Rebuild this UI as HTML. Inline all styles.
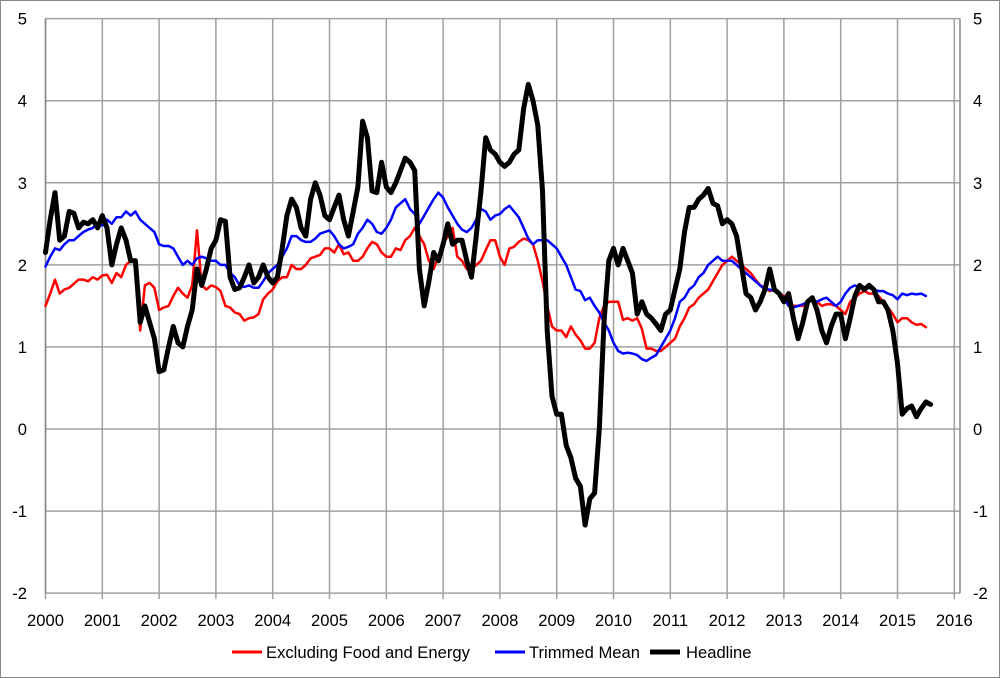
<!DOCTYPE html>
<html><head><meta charset="utf-8"><style>
html,body{margin:0;padding:0;background:#fff}
svg{display:block;font-family:"Liberation Sans",sans-serif}
</style></head><body>
<svg id="chart" width="1000" height="678" viewBox="0 0 1000 678">
<rect x="0.5" y="0.5" width="999" height="677" fill="#fff" stroke="#888"/>
<g id="grid"></g>
<g id="axes"></g>
<g id="series"></g>
<g font-size="16.6" fill="#000">
<g><line x1="232" y1="652" x2="262" y2="652" stroke="#f00" stroke-width="3"/><text x="266" y="658">Excluding Food and Energy</text></g>
<g><line x1="495" y1="652" x2="525" y2="652" stroke="#00f" stroke-width="3"/><text x="529" y="658">Trimmed Mean</text></g>
<g><line x1="650" y1="652" x2="680" y2="652" stroke="#000" stroke-width="5"/><text x="686" y="658">Headline</text></g>
</g>
</svg>
<script>
const yTicks=[-2,-1,0,1,2,3,4,5];
const xYears=[2000,2001,2002,2003,2004,2005,2006,2007,2008,2009,2010,2011,2012,2013,2014,2015,2016];
const headline=[2.15,2.55,2.88,2.3,2.35,2.65,2.63,2.45,2.52,2.5,2.55,2.45,
2.6,2.45,2.0,2.25,2.45,2.3,2.05,2.05,1.3,1.5,1.3,1.1,
0.7,0.72,1.0,1.25,1.05,1.0,1.25,1.45,1.95,1.75,1.95,2.2,
2.3,2.55,2.53,1.85,1.7,1.72,1.85,2.0,1.78,1.85,2.0,1.85,
1.78,1.85,2.2,2.6,2.8,2.7,2.45,2.35,2.8,3.0,2.85,2.6,
2.55,2.7,2.85,2.55,2.35,2.65,2.95,3.75,3.55,2.9,2.88,3.25,
2.95,2.88,3.0,3.15,3.3,3.25,3.15,1.95,1.5,1.8,2.15,2.05,
2.25,2.5,2.25,2.3,2.3,2.05,1.85,2.35,2.9,3.55,3.4,3.35,
3.25,3.2,3.25,3.35,3.4,3.9,4.2,4.0,3.7,2.9,1.2,0.4,
0.18,0.18,-0.2,-0.35,-0.6,-0.7,-1.17,-0.85,-0.78,0.0,1.3,2.05,
2.2,2.0,2.2,2.05,1.9,1.4,1.55,1.4,1.35,1.28,1.2,1.4,
1.45,1.7,1.95,2.4,2.7,2.7,2.8,2.85,2.93,2.75,2.72,2.5,
2.55,2.5,2.35,2.0,1.65,1.6,1.45,1.55,1.7,1.95,1.7,1.65,
1.55,1.65,1.35,1.1,1.3,1.55,1.6,1.45,1.2,1.05,1.25,1.4,
1.4,1.1,1.35,1.62,1.75,1.7,1.75,1.7,1.55,1.55,1.45,1.2,
0.8,0.18,0.25,0.28,0.15,0.25,0.33,0.3];
const core=[1.5,1.65,1.82,1.65,1.7,1.72,1.77,1.82,1.82,1.8,1.85,1.82,
1.87,1.88,1.78,1.9,1.85,2.0,2.05,2.05,1.2,1.75,1.78,1.72,
1.45,1.48,1.5,1.62,1.72,1.65,1.6,1.75,2.42,1.75,1.7,1.75,
1.73,1.68,1.5,1.48,1.42,1.4,1.32,1.35,1.36,1.4,1.58,1.65,
1.7,1.8,1.85,1.85,2.0,1.95,1.95,2.0,2.08,2.1,2.12,2.2,
2.2,2.15,2.25,2.13,2.15,2.05,2.05,2.1,2.2,2.28,2.25,2.15,
2.1,2.1,2.2,2.18,2.3,2.35,2.45,2.35,2.25,2.05,1.95,2.1,
2.25,2.35,2.45,2.1,2.05,1.95,1.95,2.0,2.05,2.18,2.3,2.3,
2.1,2.0,2.2,2.22,2.28,2.32,2.3,2.25,2.05,1.8,1.5,1.25,
1.2,1.2,1.12,1.25,1.15,1.08,0.98,0.98,1.05,1.35,1.5,1.55,
1.55,1.55,1.33,1.35,1.32,1.35,1.22,0.98,0.98,0.95,0.95,1.0,
1.05,1.1,1.25,1.35,1.48,1.52,1.6,1.65,1.7,1.8,1.9,2.0,
2.05,2.1,2.05,2.0,1.95,1.9,1.82,1.75,1.72,1.68,1.7,1.65,
1.62,1.55,1.5,1.5,1.5,1.55,1.58,1.55,1.5,1.52,1.52,1.5,
1.45,1.4,1.55,1.6,1.65,1.68,1.65,1.65,1.62,1.55,1.48,1.4,
1.3,1.35,1.35,1.3,1.27,1.28,1.24];
const trimmed=[1.98,2.1,2.2,2.18,2.25,2.3,2.3,2.35,2.4,2.43,2.45,2.5,
2.48,2.55,2.5,2.58,2.58,2.65,2.6,2.65,2.55,2.5,2.45,2.4,
2.25,2.23,2.23,2.2,2.1,2.0,2.05,2.0,2.08,2.1,2.08,2.05,
2.05,2.0,2.0,1.9,1.85,1.75,1.73,1.75,1.72,1.72,1.8,1.9,
1.95,2.0,2.1,2.2,2.35,2.35,2.3,2.28,2.28,2.32,2.38,2.4,
2.42,2.35,2.25,2.2,2.22,2.25,2.38,2.45,2.55,2.5,2.4,2.38,
2.45,2.55,2.7,2.75,2.8,2.68,2.62,2.5,2.6,2.7,2.8,2.88,
2.82,2.7,2.6,2.5,2.43,2.4,2.45,2.55,2.68,2.65,2.55,2.6,
2.62,2.68,2.72,2.65,2.58,2.45,2.32,2.25,2.3,2.3,2.3,2.25,
2.2,2.1,2.0,1.85,1.7,1.68,1.57,1.6,1.5,1.42,1.3,1.2,
1.05,0.95,0.92,0.93,0.92,0.9,0.85,0.83,0.87,0.9,1.0,1.1,
1.2,1.35,1.55,1.6,1.7,1.75,1.85,1.9,2.0,2.05,2.1,2.05,
2.05,2.05,2.0,1.95,1.9,1.85,1.8,1.75,1.7,1.7,1.68,1.65,
1.6,1.5,1.48,1.5,1.52,1.55,1.57,1.55,1.58,1.6,1.55,1.5,
1.55,1.65,1.72,1.75,1.72,1.7,1.72,1.7,1.68,1.68,1.65,1.63,
1.58,1.65,1.63,1.65,1.64,1.65,1.62];

const NS='http://www.w3.org/2000/svg';
const X0=45.5, YR=56.8, Y0=429, YU=82.07;
function xScale(year){return X0+(year-2000)*YR;}
function xMonth(i){return X0+(i/12)*YR;}
function yScale(v){return Y0-v*YU;}
function mk(tag,attrs,parent){const e=document.createElementNS(NS,tag);for(const k in attrs)e.setAttribute(k,attrs[k]);parent.appendChild(e);return e;}
const grid=document.getElementById('grid'),axes=document.getElementById('axes'),series=document.getElementById('series');
const yTop=yScale(5),yBot=yScale(-2);
yTicks.forEach(v=>{
  const l=mk('line',{x1:X0,x2:960,y1:yScale(v),y2:yScale(v),stroke:'#a0a0a0','stroke-width':1.5},grid);
  
  
  const t1=mk('text',{x:27,y:yScale(v)+6,'text-anchor':'end','font-size':16.6},axes);t1.textContent=v;
  
  
  const t2=mk('text',{x:973,y:yScale(v)+6,'text-anchor':'start','font-size':16.6},axes);t2.textContent=v;
  
  
});
xYears.forEach(yr=>{
  const x=xScale(yr);
  const l=mk('line',{x1:x,x2:x,y1:yTop,y2:yBot+6,stroke:'#a0a0a0','stroke-width':1.5},grid);
  
  
  const t=mk('text',{x:x,y:626,'text-anchor':'middle','font-size':16.6},axes);t.textContent=yr;
  
  
});
const la=mk('line',{x1:X0,x2:X0,y1:yTop,y2:yBot,stroke:'#888','stroke-width':1.5},axes);


const ra=mk('line',{x1:960,x2:960,y1:yTop,y2:yBot,stroke:'#888','stroke-width':1.5},axes);


function drawLine(arr,color,w,name){
  const pts=arr.map((v,i)=>xMonth(i).toFixed(1)+','+yScale(v).toFixed(1)).join(' ');
  const p=mk('polyline',{points:pts,fill:'none',stroke:color,'stroke-width':w,'stroke-linejoin':'round','stroke-linecap':'round'},series);
  
  
}
drawLine(core,'#ff0000',2.5,'core-line');
drawLine(trimmed,'#0000ff',2.5,'trimmed-mean-line');
drawLine(headline,'#000000',5,'headline-line');
</script>
</body></html>
